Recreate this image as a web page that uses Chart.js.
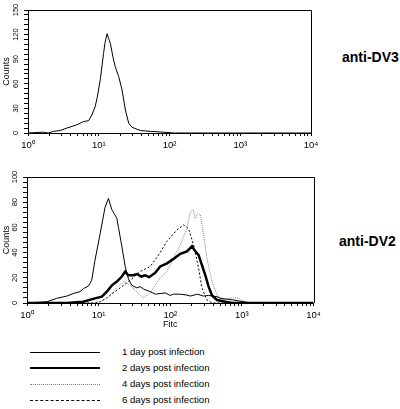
<!DOCTYPE html>
<html>
<head>
<meta charset="utf-8">
<script src="https://cdn.jsdelivr.net/npm/chart.js@4.4.0/dist/chart.umd.min.js"></script>
<style>
  html, body { margin: 0; padding: 0; background: #fff; }
  body { position: relative; width: 400px; height: 409px; overflow: hidden; font-family: 'Liberation Sans', Arial, sans-serif; color: #000; }
  canvas { position: absolute; left: 0; }
  #dv3Chart { top: 0; }
  #dv2Chart { top: 160px; }
  .panel-label { position: absolute; font-weight: bold; font-size: 14px; line-height: 14px; white-space: nowrap; }
  .legend-row { position: absolute; left: 0; width: 300px; height: 16px; }
  .legend-line { position: absolute; left: 30px; width: 70px; height: 0; }
  .legend-text { position: absolute; left: 122px; top: 0; font-size: 9.6px; line-height: 16px; white-space: nowrap; }
</style>
</head>
<body>
<canvas id="dv3Chart" width="330" height="160"></canvas>
<canvas id="dv2Chart" width="330" height="175"></canvas>
<div class="panel-label" style="left:342px; top:50px;">anti-DV3</div>
<div class="panel-label" style="left:339px; top:234px;">anti-DV2</div>
<div id="legend"></div>

<script>
// Axis ticks
const decadeValues = [1, 10, 100, 1000, 10000];
const decadeLabels = ['10⁰', '10¹', '10²', '10³', '10⁴'];
const dv3CountLabels = [0, 30, 60, 90, 120, 150];
const dv2CountLabels = [0, 20, 40, 60, 80, 100];

const seriesNames = ['1 day post infection', '2 days post infection', '4 days post infection', '6 days post infection'];

// anti-DV3 histogram
const dv3Fitc = [1, 1.65, 1.94, 2.29, 2.84, 3.54, 4.9, 6.1, 7.2, 8.0, 8.9, 9.6, 10.5, 11.7, 12.2, 13.1, 13.8, 14.6, 16.2, 17.1, 19.1, 21.3, 23.8, 26.5, 29.5, 38.8, 53.7, 83, 115, 10000];
const dv3Counts = [0, 1, 0, 2, 3, 6, 10, 14, 15, 22, 32, 45, 65, 97, 109, 121, 115, 109, 89, 81, 69, 53, 28, 12, 7, 3, 2, 1, 0, 0];

// anti-DV2 histograms
const day1Fitc = [1, 1.9, 2.6, 3.6, 4.5, 5.5, 6.2, 7.2, 8.0, 8.9, 10.5, 12.3, 13.7, 15.3, 16.5, 18.0, 18.9, 21.1, 23.5, 26.1, 29.1, 34.2, 38, 42.4, 52.5, 61.7, 72.4, 85, 100, 111, 138, 171, 190, 239, 292, 340, 450, 500, 760, 1050, 1320, 10000];
const day1Counts = [0, 1, 3.7, 5.5, 7.7, 9, 11.6, 13.5, 18, 34, 55, 76, 83, 74, 71, 67, 60, 45, 29, 19, 14, 12, 13, 11, 9, 7, 7.5, 8, 6, 7, 7, 6.3, 5.5, 7, 5.5, 6, 5, 3.7, 2.4, 1, 0, 0];

const day2Fitc = [1, 3.6, 6.1, 8.9, 11.1, 13.0, 15.3, 18.0, 21.1, 23.5, 25.9, 30.4, 34.5, 39.3, 44.7, 50.8, 61.7, 72.4, 90, 111, 138, 171, 201, 224, 249, 277, 309, 343, 383, 450, 589, 736, 10000];
const day2Counts = [0, 0, 1, 3.7, 5, 9, 14, 17, 21, 25, 22, 22, 23, 21, 22, 20.5, 24, 29, 31.5, 35, 39, 41, 45, 41, 38, 30, 22, 13, 6, 2.4, 1, 0, 0];

const day4Fitc = [1, 7.9, 10.5, 13.2, 16.0, 20.0, 23.5, 27.6, 34.2, 41.9, 52.5, 72.4, 90, 117, 138, 171, 190, 208, 224, 241, 263, 292, 326, 383, 450, 556, 692, 865, 1120, 1320, 10000];
const day4Counts = [0, 0, 1, 4, 9, 15, 17, 14, 9, 4, 8, 20, 25, 38, 46, 59, 72, 74, 67, 71, 70, 54, 35, 17, 6, 2.4, 4, 4, 1, 0, 0];

const day6Fitc = [1, 8.9, 10.5, 13.0, 16.0, 20.0, 27.6, 38, 52.5, 68.6, 90, 124, 153, 180, 212, 249, 277, 326, 386, 10000];
const day6Counts = [0, 0, 1, 4, 8, 12, 18, 25, 29, 38, 49, 58, 62, 59, 46, 27.5, 12, 2.4, 0, 0];

// Line looks for the four time points
const seriesStyles = [
  { color: '#000', width: 1, dash: [], css: '1px solid #000' },
  { color: '#000', width: 2.5, dash: [], css: '2.5px solid #000' },
  { color: '#808080', width: 1, dash: [1, 1], css: '1px dotted #808080' },
  { color: '#000', width: 1, dash: [2, 2], css: '1px dashed #000' }
];

const FONT = "'Liberation Sans', Arial, sans-serif";

function toPoints(xs, ys) {
  return xs.map((x, i) => ({ x: x, y: ys[i] }));
}

function makeDataset(xs, ys, style) {
  return {
    data: toPoints(xs, ys),
    borderColor: style.color,
    borderWidth: style.width,
    borderDash: style.dash,
    pointRadius: 0,
    tension: 0,
    fill: false
  };
}

// Top and right edges of the plot box
const framePlugin = {
  id: 'frame',
  afterDraw(chart) {
    const { ctx, chartArea: a } = chart;
    ctx.save();
    ctx.strokeStyle = '#000';
    ctx.lineWidth = 1;
    ctx.beginPath();
    ctx.moveTo(a.left, Math.round(a.top) + 0.5);
    ctx.lineTo(Math.round(a.right) + 0.5, Math.round(a.top) + 0.5);
    ctx.lineTo(Math.round(a.right) + 0.5, a.bottom);
    ctx.stroke();
    ctx.restore();
  }
};

// keep only the 1..9 steps of each decade
function wholeDecadeSteps(scale) {
  scale.ticks = scale.ticks.filter(t => {
    const m = t.value / Math.pow(10, Math.floor(Math.log10(t.value) + 1e-9));
    return Math.abs(m - Math.round(m)) < 1e-6;
  });
}

function makeHistogram(canvasId, datasets, box) {
  return new Chart(document.getElementById(canvasId), {
    type: 'line',
    data: { datasets: datasets },
    plugins: [framePlugin],
    options: {
      responsive: false,
      animation: false,
      layout: { padding: { top: box.top, right: box.right, left: 0, bottom: 0 } },
      plugins: { legend: { display: false }, tooltip: { enabled: false } },
      scales: {
        x: {
          type: 'logarithmic',
          min: 1,
          max: 10000,
          border: { color: '#000', width: 1 },
          grid: { drawOnChartArea: false, color: '#000', tickLength: 3 },
          afterBuildTicks: wholeDecadeSteps,
          ticks: {
            autoSkip: false,
            maxRotation: 0,
            padding: 4,
            color: '#000',
            font: { family: FONT, size: 9.5 },
            callback: v => {
              const i = decadeValues.indexOf(v);
              return i >= 0 ? decadeLabels[i] : '';
            }
          },
          title: {
            display: !!box.xTitle,
            text: box.xTitle || '',
            color: '#000',
            font: { family: FONT, size: 9 },
            padding: { top: 0, bottom: 5 }
          },
          afterFit: s => { s.height = box.xHeight; }
        },
        y: {
          min: 0,
          max: box.yMax,
          border: { color: '#000', width: 1 },
          grid: { drawOnChartArea: false, color: '#000', tickLength: 4 },
          ticks: {
            stepSize: box.yStep,
            autoSkip: false,
            minRotation: 90,
            maxRotation: 90,
            crossAlign: 'center',
            padding: 2,
            color: '#000',
            font: { family: FONT, size: 7.5 },
            callback: v => (box.yLabels.includes(v) ? String(v) : '')
          },
          title: {
            display: true,
            text: 'Counts',
            color: '#000',
            font: { family: FONT, size: 9 },
            padding: { top: 1.5, bottom: 0 }
          },
          afterFit: s => { s.width = box.yWidth; }
        }
      }
    }
  });
}

// anti-DV3 panel
makeHistogram('dv3Chart', [makeDataset(dv3Fitc, dv3Counts, seriesStyles[0])], {
  top: 10, right: 19, yWidth: 28, xHeight: 27,
  yMax: 150, yStep: 6, yLabels: dv3CountLabels
});

// anti-DV2 panel
makeHistogram('dv2Chart', [
  makeDataset(day1Fitc, day1Counts, seriesStyles[0]),
  makeDataset(day2Fitc, day2Counts, seriesStyles[1]),
  makeDataset(day4Fitc, day4Counts, seriesStyles[2]),
  makeDataset(day6Fitc, day6Counts, seriesStyles[3])
], {
  top: 17, right: 16.5, yWidth: 27, xHeight: 32,
  yMax: 100, yStep: 4, yLabels: dv2CountLabels, xTitle: 'Fitc'
});

// Legend below the panels
const legend = document.getElementById('legend');
const rowCenters = [352, 368, 384, 400];
seriesNames.forEach((name, i) => {
  const row = document.createElement('div');
  row.className = 'legend-row';
  row.style.top = (rowCenters[i] - 8) + 'px';
  const line = document.createElement('div');
  line.className = 'legend-line';
  line.style.borderTop = seriesStyles[i].css;
  line.style.top = (8 - seriesStyles[i].width / 2) + 'px';
  const text = document.createElement('div');
  text.className = 'legend-text';
  text.textContent = name;
  row.appendChild(line);
  row.appendChild(text);
  legend.appendChild(row);
});
</script>
</body>
</html>
